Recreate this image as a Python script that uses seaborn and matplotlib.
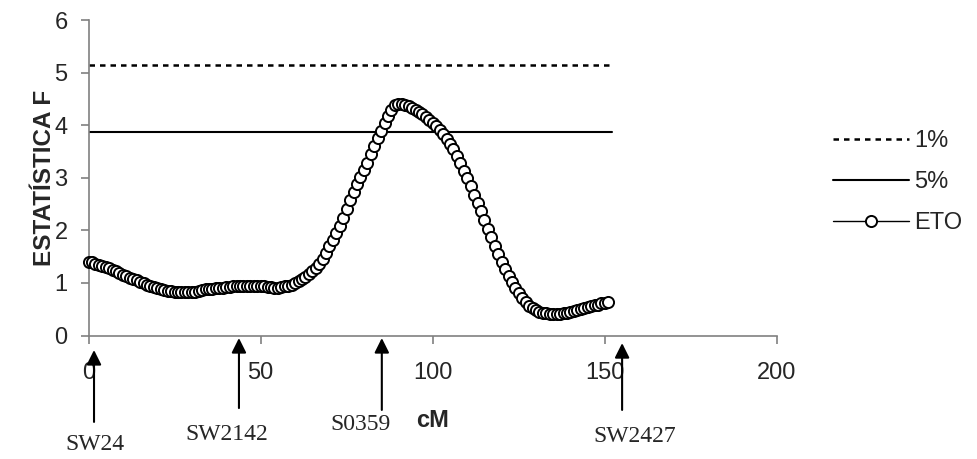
import matplotlib
matplotlib.use("Agg")
import matplotlib.pyplot as plt
import seaborn as sns
import pandas as pd

# ---------------- data ----------------
cm = list(range(0, 152))
eto = [1.40, 1.39, 1.37, 1.35, 1.33, 1.30, 1.28, 1.25, 1.22, 1.19,
       1.16, 1.13, 1.10, 1.07, 1.05, 1.02, 0.99, 0.97, 0.94, 0.92,
       0.90, 0.88, 0.86, 0.85, 0.84, 0.83, 0.83, 0.82, 0.82, 0.82,
       0.83, 0.83, 0.85, 0.87, 0.88, 0.88, 0.89, 0.90, 0.91, 0.91,
       0.92, 0.93, 0.94, 0.94, 0.95, 0.95, 0.95, 0.95, 0.95, 0.95,
       0.95, 0.94, 0.93, 0.92, 0.91, 0.91, 0.92, 0.94, 0.95, 0.97,
       1.00, 1.04, 1.08, 1.12, 1.17, 1.22, 1.29, 1.37, 1.46, 1.57,
       1.70, 1.82, 1.95, 2.09, 2.23, 2.40, 2.58, 2.74, 2.88, 3.02,
       3.15, 3.29, 3.45, 3.60, 3.75, 3.90, 4.05, 4.18, 4.30, 4.38,
       4.41, 4.40, 4.38, 4.36, 4.33, 4.30, 4.26, 4.21, 4.16, 4.10,
       4.04, 3.98, 3.91, 3.83, 3.74, 3.64, 3.54, 3.42, 3.29, 3.14,
       2.99, 2.84, 2.68, 2.52, 2.36, 2.19, 2.03, 1.87, 1.71, 1.55,
       1.40, 1.26, 1.13, 1.01, 0.90, 0.80, 0.71, 0.64, 0.57, 0.52,
       0.48, 0.45, 0.43, 0.42, 0.41, 0.41, 0.41, 0.41, 0.42, 0.43,
       0.45, 0.47, 0.49, 0.51, 0.53, 0.55, 0.56, 0.58, 0.59, 0.61,
       0.62, 0.64]
threshold_x = [0, 152]
threshold_1pct = [5.15, 5.15]
threshold_5pct = [3.87, 3.87]
marker_names = ["SW24", "SW2142", "S0359", "SW2427"]
marker_cm = [1.6, 43.7, 85.2, 155.0]
xticks = [0, 50, 100, 150, 200]
yticks = [0, 1, 2, 3, 4, 5, 6]

# ---------------- style ----------------
sns.set_style("white")
plt.rcParams["font.family"] = ["Liberation Sans", "DejaVu Sans"]
FS = 17

fig = plt.figure(figsize=(9.78, 4.59), dpi=100)
ax = fig.add_axes([0.0905, 0.269, 0.704, 0.687])

df_1 = pd.DataFrame({"x": threshold_x, "y": threshold_1pct})
df_5 = pd.DataFrame({"x": threshold_x, "y": threshold_5pct})
df_e = pd.DataFrame({"x": cm, "y": eto})

sns.lineplot(data=df_1, x="x", y="y", ax=ax, color="black", lw=1.8,
             dashes=False, label="1%", linestyle=(0, (2.2, 2.0)))
sns.lineplot(data=df_5, x="x", y="y", ax=ax, color="black", lw=1.5,
             label="5%")
sns.lineplot(data=df_e, x="x", y="y", ax=ax, color="black", lw=1.0,
             marker="o", markersize=8, markerfacecolor="white",
             markeredgecolor="black", markeredgewidth=1.4,
             label="ETO", clip_on=False, zorder=5)

ax.set_xlim(0, 200)
ax.set_ylim(0, 6)
ax.set_xticks(xticks)
ax.set_yticks(yticks)
ax.set_xlabel("")
ax.set_ylabel("ESTATÍSTICA F", fontsize=17.5, fontweight="bold", labelpad=-1)

for s in ["top", "right"]:
    ax.spines[s].set_visible(False)
for s in ["left", "bottom"]:
    ax.spines[s].set_color("#808080")
    ax.spines[s].set_linewidth(1.2)
ax.tick_params(axis="both", which="major", direction="out", length=6,
               width=1.2, color="#808080", labelsize=FS, left=True,
               bottom=True)
ax.tick_params(axis="x", pad=13)
ax.tick_params(axis="y", pad=9)

# cM label
ax.text(100, -0.27, "cM", transform=ax.get_xaxis_transform(),
        ha="center", va="center", fontsize=FS, fontweight="bold")

# marker arrows & labels
trans = ax.get_xaxis_transform()
tips = [-0.046, -0.008, -0.008, -0.024]
bottoms = [-0.274, -0.230, -0.236, -0.236]
lab_dx = [0.3, -3.5, -6.3, 3.7]
lab_y = [-0.347, -0.315, -0.281, -0.319]
for name, xv, t, b, dx, ly in zip(marker_names, marker_cm, tips, bottoms,
                                  lab_dx, lab_y):
    ax.annotate("", xy=(xv, t), xytext=(xv, b), xycoords=trans,
                textcoords=trans, annotation_clip=False,
                arrowprops=dict(arrowstyle="-|>", color="black", lw=1.5,
                                mutation_scale=22, shrinkA=0, shrinkB=0))
    ax.text(xv + dx, ly, name, transform=trans, ha="center", va="center",
            fontsize=FS, family=["Liberation Serif", "DejaVu Serif"])

leg = ax.legend(loc="center left", bbox_to_anchor=(833 / 978, 0.603),
                bbox_transform=fig.transFigure, frameon=False, fontsize=FS,
                handlelength=3.2, handletextpad=0.25, labelspacing=0.8,
                borderpad=0, borderaxespad=0, numpoints=1)

fig.savefig("out.png", dpi=100)
